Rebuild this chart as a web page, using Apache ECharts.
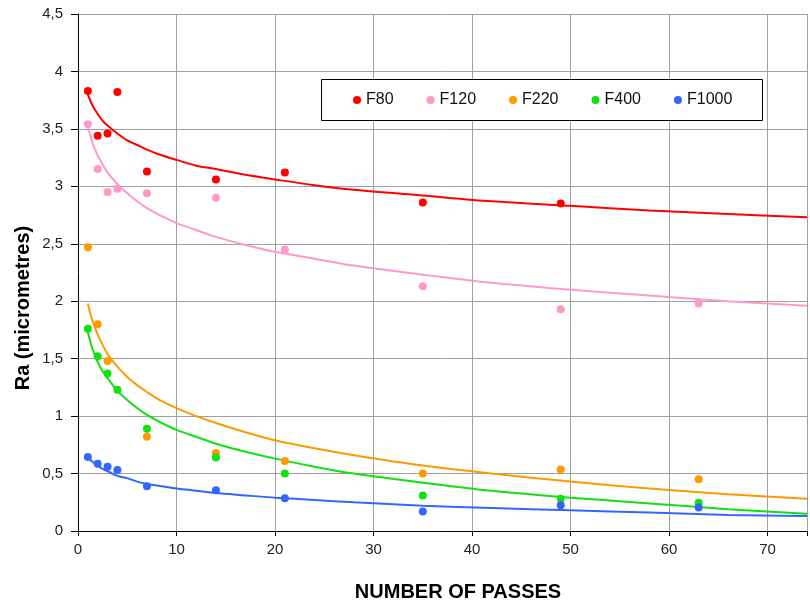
<!DOCTYPE html>
<html>
<head>
<meta charset="utf-8">
<script src="https://cdn.jsdelivr.net/npm/echarts@6/dist/echarts.min.js"></script>
<style>
html,body{margin:0;padding:0;background:#fff;}
#chart{width:810px;height:608px;}
</style>
</head>
<body>
<div id="chart"></div>
<script>
// Measured points: [passes, Ra]
const F80 = [[1,3.83],[2,3.44],[3,3.46],[4,3.82],[7,3.13],[14,3.06],[21,3.12],[35,2.86],[49,2.85]];
const F120 = [[1,3.54],[2,3.15],[3,2.95],[4,2.98],[7,2.94],[14,2.90],[21,2.45],[35,2.13],[49,1.93],[63,1.98]];
const F220 = [[1,2.47],[2,1.80],[3,1.48],[7,0.82],[14,0.68],[21,0.61],[35,0.50],[49,0.535],[63,0.45]];
const F400 = [[1,1.76],[2,1.52],[3,1.37],[4,1.23],[7,0.89],[14,0.64],[21,0.50],[35,0.31],[49,0.28],[63,0.245]];
const F1000 = [[1,0.645],[2,0.585],[3,0.56],[4,0.53],[7,0.39],[14,0.355],[21,0.285],[35,0.17],[49,0.225],[63,0.205]];

// Trend-line values
const trendX = [1, 1.25, 1.5, 2, 2.5, 3, 4, 5, 6, 7, 8.5, 10, 12, 14, 17, 20, 24, 28, 35, 42, 50, 58, 66, 74];
const trendF80 = [3.80, 3.745, 3.70, 3.63, 3.57, 3.53, 3.46, 3.40, 3.36, 3.32, 3.27, 3.23, 3.18, 3.15, 3.10, 3.06, 3.01, 2.97, 2.92, 2.87, 2.83, 2.79, 2.76, 2.73];
const trendF120 = [3.52, 3.44, 3.37, 3.27, 3.19, 3.12, 3.02, 2.94, 2.87, 2.81, 2.74, 2.68, 2.62, 2.56, 2.49, 2.43, 2.37, 2.31, 2.23, 2.16, 2.10, 2.05, 2.00, 1.96];
const trendF220 = [1.98, 1.89, 1.82, 1.71, 1.62, 1.54, 1.43, 1.34, 1.27, 1.21, 1.13, 1.07, 1.00, 0.94, 0.86, 0.79, 0.72, 0.66, 0.57, 0.50, 0.43, 0.37, 0.32, 0.28];
const trendF400 = [1.73, 1.65, 1.58, 1.47, 1.39, 1.33, 1.22, 1.14, 1.07, 1.01, 0.94, 0.88, 0.82, 0.76, 0.69, 0.63, 0.56, 0.50, 0.42, 0.35, 0.29, 0.24, 0.19, 0.15];
const trendF1000 = [0.65, 0.62, 0.60, 0.57, 0.54, 0.52, 0.48, 0.46, 0.43, 0.41, 0.39, 0.37, 0.35, 0.33, 0.31, 0.29, 0.27, 0.25, 0.22, 0.20, 0.18, 0.16, 0.14, 0.13];

const seriesNames = ['F80', 'F120', 'F220', 'F400', 'F1000'];
const colors = ['#ff0000', '#ff99cc', '#ff9900', '#11e011', '#3366ff'];
const pointSets = [F80, F120, F220, F400, F1000];
const trendSets = [trendF80, trendF120, trendF220, trendF400, trendF1000];

const chart = echarts.init(document.getElementById('chart'), null, {renderer: 'canvas'});

const series = [];
trendSets.forEach((t, i) => {
  series.push({
    name: seriesNames[i] + ' trend',
    type: 'line',
    data: trendX.map((x, k) => [x, t[k]]),
    smooth: 0.3,
    showSymbol: false,
    symbol: 'none',
    lineStyle: {color: colors[i], width: 2},
    itemStyle: {color: colors[i]},
    clip: true,
    z: 2,
    silent: true
  });
});
pointSets.forEach((p, i) => {
  series.push({
    name: seriesNames[i],
    type: 'scatter',
    data: p,
    symbol: 'circle',
    symbolSize: 8,
    itemStyle: {color: colors[i], opacity: 1},
    z: 3
  });
});

const option = {
  animation: false,
  backgroundColor: '#ffffff',
  grid: {left: 78, right: 0, top: 14, bottom: 77, containLabel: false},
  xAxis: {
    type: 'value',
    min: 0, max: 74, interval: 10,
    axisLine: {show: true, lineStyle: {color: '#000', width: 1}},
    axisTick: {show: true, length: 5, lineStyle: {color: '#000'}},
    axisLabel: {
      color: '#222', fontSize: 15, fontFamily: 'Liberation Sans, Arial', margin: 11,
      formatter: v => (v % 10 === 0 ? String(v) : '')
    },
    splitLine: {show: true, lineStyle: {color: '#a0a0a0', width: 1}}
  },
  yAxis: {
    type: 'value',
    min: 0, max: 4.5, interval: 0.5,
    axisLine: {show: true, lineStyle: {color: '#000', width: 1}},
    axisTick: {show: true, length: 7, lineStyle: {color: '#000'}},
    axisLabel: {
      color: '#222', fontSize: 15, fontFamily: 'Liberation Sans, Arial', margin: 15,
      formatter: v => String(Math.round(v * 10) / 10).replace('.', ',')
    },
    splitLine: {show: true, lineStyle: {color: '#a0a0a0', width: 1}}
  },
  legend: {
    data: seriesNames,
    left: 353, top: 92,
    orient: 'horizontal',
    itemWidth: 8, itemHeight: 8,
    itemGap: 33,
    icon: 'circle',
    padding: 0,
    textStyle: {color: '#111', fontSize: 16, fontFamily: 'Liberation Sans, Arial', padding: [0, 0, 0, 0]},
    z: 10
  },
  graphic: [
    {
      type: 'rect', left: 321, top: 79, z: 5,
      shape: {width: 441, height: 41},
      style: {fill: '#fff', stroke: '#000', lineWidth: 1}
    },
    {
      type: 'text', x: 458, y: 592, z: 5,
      style: {text: 'NUMBER OF PASSES', fill: '#000', font: 'bold 20px "Liberation Sans", Arial',
        align: 'center', verticalAlign: 'middle'}
    },
    {
      type: 'text', x: 23, y: 308, rotation: Math.PI / 2, z: 5,
      style: {text: 'Ra (micrometres)', fill: '#000', font: 'bold 20px "Liberation Sans", Arial',
        align: 'center', verticalAlign: 'middle'}
    }
  ],
  series: series
};
chart.setOption(option);
</script>
</body>
</html>
